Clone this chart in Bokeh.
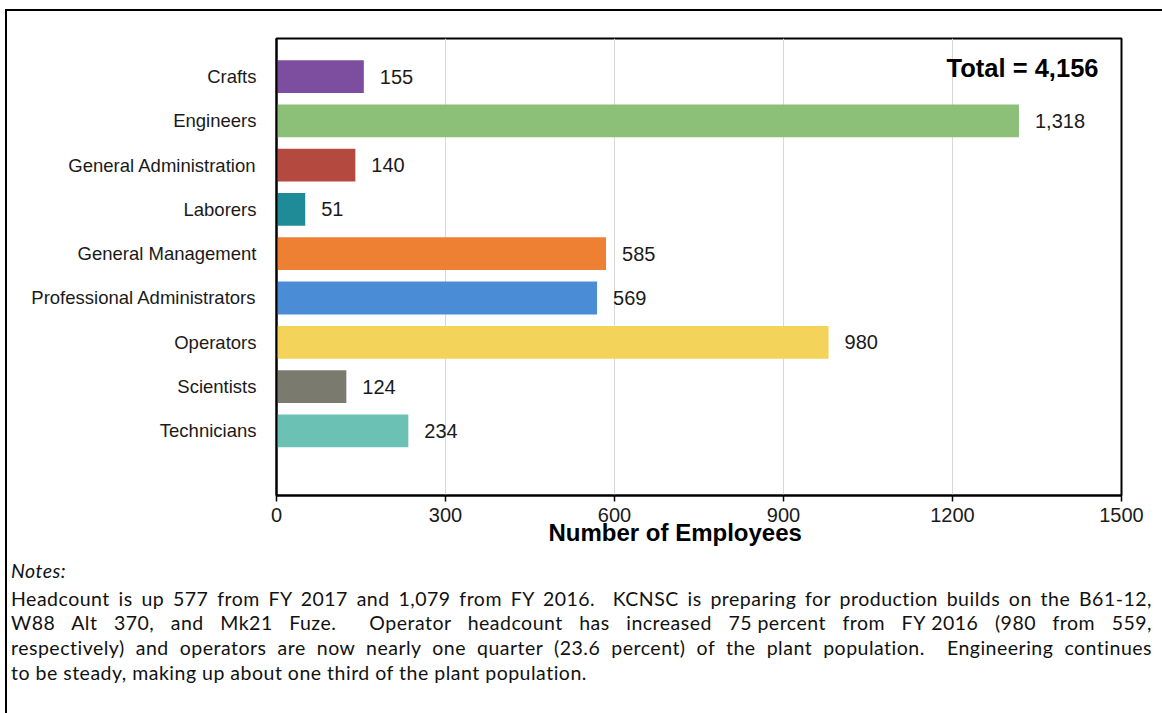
from bokeh.plotting import figure
from bokeh.models import Range1d, FixedTicker, Label, Div, ColumnDataSource, Title
from bokeh.layouts import column
from bokeh.embed import file_html
from bokeh.resources import INLINE
from bokeh.core.properties import value

# ---- data ----
categories = ["Crafts", "Engineers", "General Administration", "Laborers",
              "General Management", "Professional Administrators", "Operators",
              "Scientists", "Technicians"]
employees = [155, 1318, 140, 51, 585, 569, 980, 124, 234]
bar_colors = ["#7D4E9F", "#8CBF78", "#B4493F", "#1E8B96", "#EE8033",
              "#4A8DD6", "#F4D35A", "#7A7A6F", "#6BC1B4"]
x_ticks = [0, 300, 600, 900, 1200, 1500]
axis_title = "Number of Employees"
notes_title = "Notes:"
note_lines = [
    "Headcount is up 577 from FY 2017 and 1,079 from FY 2016.&nbsp; KCNSC is preparing for production builds on the B61-12,",
    "W88 Alt 370, and Mk21 Fuze.&nbsp; Operator headcount has increased 75&#8239;percent from FY&#8239;2016 (980 from 559,",
    "respectively) and operators are now nearly one quarter (23.6 percent) of the plant population.&nbsp; Engineering continues",
    "to be steady, making up about one third of the plant population.",
]

FONT = "Liberation Sans"
idx = list(range(len(categories)))
total = sum(employees)

src = ColumnDataSource(dict(
    y=idx, v=employees, c=bar_colors,
    lbl=[f"{v:,}" for v in employees],
))

p = figure(width=1149, height=544, output_backend="svg", toolbar_location=None,
           x_range=Range1d(0, 1500), y_range=Range1d(9.46, -0.86),
           min_border_left=269, min_border_right=35, min_border_top=27,
           min_border_bottom=60)
p.background_fill_color = "white"
p.border_fill_color = "white"
p.outline_line_color = "black"
p.outline_line_width = 2

p.hbar(y="y", left=0, right="v", height=0.74, fill_color="c", line_color=None, source=src)
p.text(x="v", y="y", text="lbl", source=src, x_offset=16, text_baseline="middle",
       text_align="left", text_font=value(FONT), text_font_size="20px", text_color="#1a1a1a")

# axes
p.xaxis.ticker = FixedTicker(ticks=x_ticks)
p.xaxis.axis_line_color = "black"
p.xaxis.axis_line_width = 2
p.xaxis.major_tick_line_color = "black"
p.xaxis.major_tick_line_width = 1.5
p.xaxis.major_tick_in = 0
p.xaxis.major_tick_out = 6
p.xaxis.minor_tick_line_color = None
p.xaxis.major_label_text_font = FONT
p.xaxis.major_label_text_font_size = "20px"
p.xaxis.major_label_text_color = "#1a1a1a"
p.xaxis.major_label_standoff = 6

p.yaxis.ticker = FixedTicker(ticks=idx)
p.yaxis.major_label_overrides = {i: c for i, c in zip(idx, categories)}
p.yaxis.axis_line_color = "black"
p.yaxis.axis_line_width = 2
p.yaxis.major_tick_line_color = None
p.yaxis.minor_tick_line_color = None
p.yaxis.major_tick_in = 0
p.yaxis.major_tick_out = 0
p.yaxis.major_label_standoff = 20
p.yaxis.major_label_text_font = FONT
p.yaxis.major_label_text_font_size = "18.5px"
p.yaxis.major_label_text_color = "#1a1a1a"

p.xgrid.grid_line_color = "#d8d8d8"
p.xgrid.grid_line_width = 1
p.ygrid.grid_line_color = None

p.add_layout(Label(x=1500, y=-0.2, x_offset=-23, text=f"Total = {total:,}",
                   text_align="right", text_baseline="middle", text_font=FONT,
                   text_font_size="25.5px", text_font_style="bold", text_color="black"))
p.add_layout(Title(text=axis_title, align="left", offset=272, standoff=-11,
                   vertical_align="top", text_font=FONT, text_font_size="24px",
                   text_font_style="bold", text_color="black"), "below")

line_html = "".join(
    f'<div style="text-align:justify;text-align-last:{"justify" if i < len(note_lines) - 1 else "left"};">{ln}</div>'
    for i, ln in enumerate(note_lines)
)
notes_html = (
    '<div style="font-family:Lato, sans-serif;font-size:19.5px;letter-spacing:0.5px;'
    'line-height:24.7px;color:#111;width:1141px;padding:0;margin:-1px 0 0 -1px;">'
    f'<div style="font-style:italic;margin-bottom:3px;">{notes_title}</div>'
    f'{line_html}</div>'
)
notes = Div(text=notes_html, width=1149, height=155)

layout = column(p, notes, spacing=0,
                styles={"border": "2px solid black", "background": "white",
                        "margin": "9px 0 0 5px"})

open("out.html", "w").write(file_html(layout, INLINE))
